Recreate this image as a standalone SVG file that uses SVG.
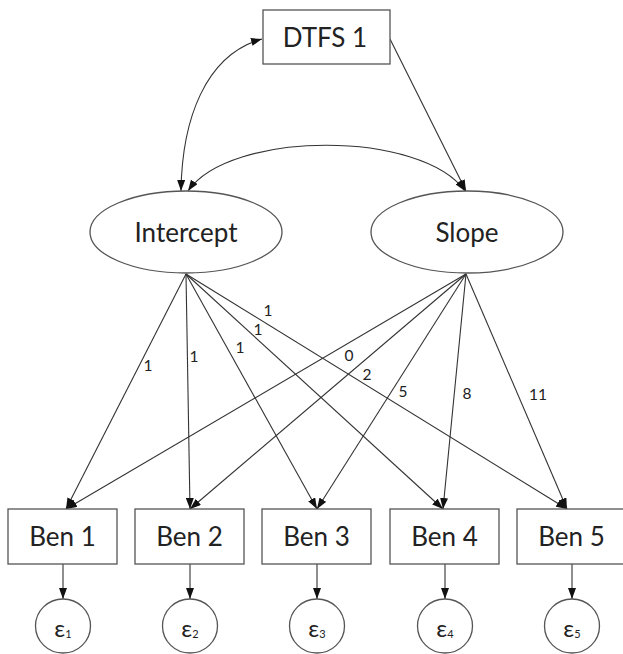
<svg xmlns="http://www.w3.org/2000/svg" width="623" height="654" viewBox="0 0 623 654">
  <style>
    .box { fill: #ffffff; stroke: #555555; stroke-width: 1.3; }
    .lat { fill: #ffffff; stroke: #555555; stroke-width: 1.3; }
    .name { font-family: Lato, "Liberation Sans", sans-serif; font-size: 26px; fill: #222222; text-anchor: middle; }
    .coef { font-family: Lato, "Liberation Sans", sans-serif; font-size: 15.5px; fill: #222222; text-anchor: middle; }
    .err { font-family: Lato, "Liberation Sans", sans-serif; font-size: 24px; fill: #222222; text-anchor: middle; }
    .sub { font-size: 11px; }
    .edge { fill: none; stroke: #333333; stroke-width: 1.1; marker-end: url(#head); }
    .both { marker-start: url(#headStart); }
  </style>
  <defs>
    <marker id="head" viewBox="0 0 11 8" refX="11" refY="4" markerWidth="11" markerHeight="8" markerUnits="userSpaceOnUse" orient="auto">
      <path d="M0,0 L11,4 L0,8 Z" fill="#111111"/>
    </marker>
    <marker id="headStart" viewBox="0 0 11 8" refX="0" refY="4" markerWidth="11" markerHeight="8" markerUnits="userSpaceOnUse" orient="auto">
      <path d="M11,0 L0,4 L11,8 Z" fill="#111111"/>
    </marker>
  </defs>

  <!-- paths between variables -->
  <g id="connectors">
    <!-- covariances -->
    <path class="edge both" d="M181,191 C182,120 205,55 262,39"/>
    <path class="edge both" d="M188,191 C230,130 422,130 465,191"/>
    <!-- DTFS 1 predicts slope -->
    <path class="edge" d="M390,39 L466,191"/>
    <!-- intercept loadings -->
    <path class="edge" d="M186,274 L66,509"/>
    <path class="edge" d="M186,274 L190,509"/>
    <path class="edge" d="M186,274 L317,509"/>
    <path class="edge" d="M186,274 L443,509"/>
    <path class="edge" d="M186,274 L567,509"/>
    <!-- slope loadings -->
    <path class="edge" d="M466,274 L66,509"/>
    <path class="edge" d="M466,274 L190,509"/>
    <path class="edge" d="M466,274 L317,509"/>
    <path class="edge" d="M466,274 L443,509"/>
    <path class="edge" d="M466,274 L567,509"/>
    <!-- residuals -->
    <path class="edge" d="M63,564 L63,599"/>
    <path class="edge" d="M190,564 L190,599"/>
    <path class="edge" d="M317,564 L317,599"/>
    <path class="edge" d="M445,564 L445,599"/>
    <path class="edge" d="M572,564 L572,599"/>
  </g>

  <!-- loading values -->
  <g id="labels">
    <text class="coef" x="148" y="370.5">1</text>
    <text class="coef" x="194" y="361.5">1</text>
    <text class="coef" x="240" y="352.5">1</text>
    <text class="coef" x="258" y="334.5">1</text>
    <text class="coef" x="268" y="315.5">1</text>
    <text class="coef" x="349" y="360.5">0</text>
    <text class="coef" x="367" y="379.5">2</text>
    <text class="coef" x="403" y="396.5">5</text>
    <text class="coef" x="467" y="398.5">8</text>
    <text class="coef" x="538" y="399.5">11</text>
  </g>

  <g id="dtfs1">
    <rect class="box" x="263" y="10" width="127" height="54"/>
    <text class="name" x="325" y="46.5">DTFS 1</text>
  </g>

  <g id="intercept">
    <ellipse class="lat" cx="186" cy="232" rx="96" ry="41"/>
    <text class="name" x="186" y="242">Intercept</text>
  </g>

  <g id="slope">
    <ellipse class="lat" cx="467" cy="232" rx="96" ry="41"/>
    <text class="name" x="467" y="242">Slope</text>
  </g>

  <g id="ben1">
    <rect class="box" x="8" y="509" width="109" height="55"/>
    <text class="name" x="62.5" y="545.5">Ben 1</text>
  </g>
  <g id="ben2">
    <rect class="box" x="135" y="509" width="109" height="55"/>
    <text class="name" x="189.5" y="545.5">Ben 2</text>
  </g>
  <g id="ben3">
    <rect class="box" x="262" y="509" width="109" height="55"/>
    <text class="name" x="316.5" y="545.5">Ben 3</text>
  </g>
  <g id="ben4">
    <rect class="box" x="390" y="509" width="109" height="55"/>
    <text class="name" x="444.5" y="545.5">Ben 4</text>
  </g>
  <g id="ben5">
    <rect class="box" x="517" y="509" width="109" height="55"/>
    <text class="name" x="571.5" y="545.5">Ben 5</text>
  </g>

  <g id="e1">
    <ellipse class="lat" cx="63" cy="626" rx="27.5" ry="27"/>
    <text class="err" x="63" y="637">ε<tspan class="sub" dy="1">1</tspan></text>
  </g>
  <g id="e2">
    <ellipse class="lat" cx="190" cy="626" rx="27.5" ry="27"/>
    <text class="err" x="190" y="637">ε<tspan class="sub" dy="1">2</tspan></text>
  </g>
  <g id="e3">
    <ellipse class="lat" cx="317" cy="626" rx="27.5" ry="27"/>
    <text class="err" x="317" y="637">ε<tspan class="sub" dy="1">3</tspan></text>
  </g>
  <g id="e4">
    <ellipse class="lat" cx="445" cy="626" rx="27.5" ry="27"/>
    <text class="err" x="445" y="637">ε<tspan class="sub" dy="1">4</tspan></text>
  </g>
  <g id="e5">
    <ellipse class="lat" cx="572" cy="626" rx="27.5" ry="27"/>
    <text class="err" x="572" y="637">ε<tspan class="sub" dy="1">5</tspan></text>
  </g>
</svg>
